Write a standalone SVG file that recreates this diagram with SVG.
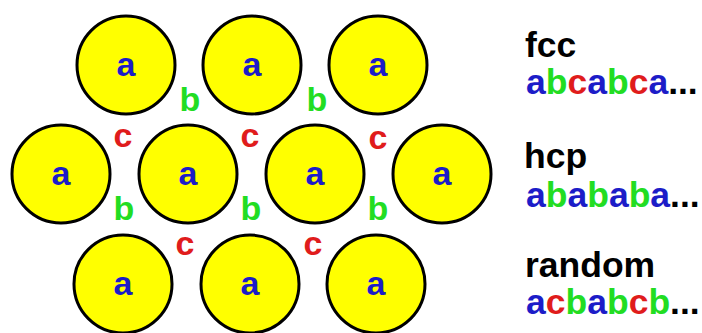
<svg xmlns="http://www.w3.org/2000/svg" width="702" height="333" viewBox="0 0 702 333">
<style>
.ball{fill:#ffff00;stroke:#000;stroke-width:3}
text{font-family:"Liberation Sans",Arial,sans-serif;font-weight:bold;font-size:34px}
.a{fill:#1c1cc8;text-anchor:middle}
.b{fill:#22dd22;text-anchor:middle}
.c{fill:#e01c1c;text-anchor:middle}
.k{fill:#000;font-size:35.5px}
.seq{font-size:35.5px}
</style>
<rect width="702" height="333" fill="#fff"/>
<g id="row1">
<g id="a11"><circle class="ball" cx="126" cy="65" r="49"/><text class="a" x="126" y="76">a</text></g>
<g id="a12"><circle class="ball" cx="252" cy="65" r="49"/><text class="a" x="252" y="76">a</text></g>
<g id="a13"><circle class="ball" cx="378" cy="65" r="49"/><text class="a" x="378" y="76">a</text></g>
</g>
<g id="row2">
<g id="a21"><circle class="ball" cx="61" cy="174" r="49"/><text class="a" x="61" y="185">a</text></g>
<g id="a22"><circle class="ball" cx="188" cy="174" r="49"/><text class="a" x="188" y="185">a</text></g>
<g id="a23"><circle class="ball" cx="315" cy="174" r="49"/><text class="a" x="315" y="185">a</text></g>
<g id="a24"><circle class="ball" cx="442" cy="174" r="49"/><text class="a" x="442" y="185">a</text></g>
</g>
<g id="row3">
<g id="a31"><circle class="ball" cx="123" cy="284" r="49"/><text class="a" x="123" y="295">a</text></g>
<g id="a32"><circle class="ball" cx="250" cy="284" r="49"/><text class="a" x="250" y="295">a</text></g>
<g id="a33"><circle class="ball" cx="376" cy="284" r="49"/><text class="a" x="376" y="295">a</text></g>
</g>
<g id="sites">
<text class="b" x="190" y="111">b</text>
<text class="b" x="317" y="111">b</text>
<text class="c" x="123" y="147">c</text>
<text class="c" x="250" y="147">c</text>
<text class="c" x="378" y="149">c</text>
<text class="b" x="124" y="220">b</text>
<text class="b" x="251" y="220">b</text>
<text class="b" x="378" y="220">b</text>
<text class="c" x="185" y="255">c</text>
<text class="c" x="313" y="255">c</text>
</g>
<g id="legend">
<text class="k" x="525" y="57">fcc</text>
<text class="seq" x="526" y="94"><tspan fill="#1c1cc8">a</tspan><tspan fill="#22dd22">b</tspan><tspan fill="#e01c1c">c</tspan><tspan fill="#1c1cc8">a</tspan><tspan fill="#22dd22">b</tspan><tspan fill="#e01c1c">c</tspan><tspan fill="#1c1cc8">a</tspan><tspan fill="#000">...</tspan></text>
<text class="k" x="524" y="168">hcp</text>
<text class="seq" x="526" y="207"><tspan fill="#1c1cc8">a</tspan><tspan fill="#22dd22">b</tspan><tspan fill="#1c1cc8">a</tspan><tspan fill="#22dd22">b</tspan><tspan fill="#1c1cc8">a</tspan><tspan fill="#22dd22">b</tspan><tspan fill="#1c1cc8">a</tspan><tspan fill="#000">...</tspan></text>
<text class="k" x="525" y="277">random</text>
<text class="seq" x="526" y="314"><tspan fill="#1c1cc8">a</tspan><tspan fill="#e01c1c">c</tspan><tspan fill="#22dd22">b</tspan><tspan fill="#1c1cc8">a</tspan><tspan fill="#22dd22">b</tspan><tspan fill="#e01c1c">c</tspan><tspan fill="#22dd22">b</tspan><tspan fill="#000">...</tspan></text>
</g>
</svg>
